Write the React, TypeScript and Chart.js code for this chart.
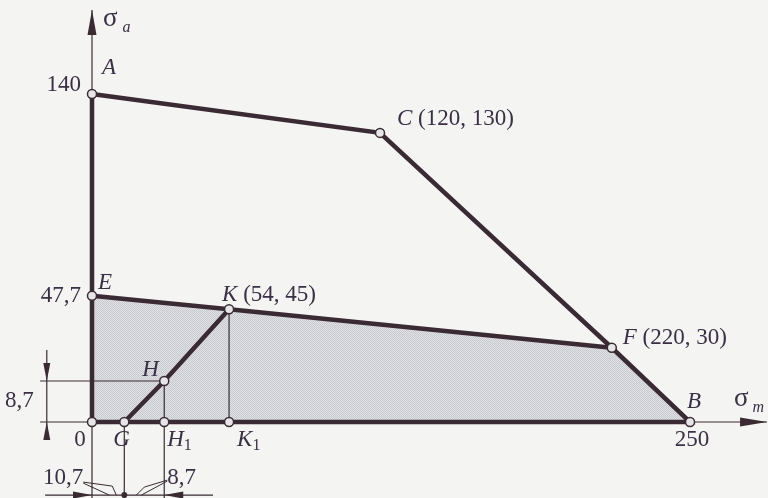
import React, { useEffect, useRef } from "react";
import { Chart, registerables } from "chart.js";

Chart.register(...registerables);

// σm / σa positions of the points as drawn in the (schematic) diagram
const outlineX = [0, 120.4, 217.3, 250, 0, 0]; // A, C, F, B, O, A
const outlineY = [140, 123.4, 31.7, 0, 0, 140];
const limitX = [0, 57.3, 217.3]; // E, K, F
const limitY = [53.9, 48.1, 31.7];
const loadX = [13.5, 30.2, 57.3]; // G, H, K
const loadY = [0, 17.5, 48.1];
const shadeX = [0, 57.3, 217.3, 250]; // E, K, F, B (filled down to σa = 0)
const shadeY = [53.9, 48.1, 31.7, 0];
const markerNames = ["O", "A", "C", "F", "B", "E", "K", "H", "G", "H1", "K1"];
const markerX = [0, 0, 120.4, 217.3, 250, 0, 57.3, 30.2, 13.5, 30.2, 57.3];
const markerY = [0, 140, 123.4, 31.7, 0, 53.9, 48.1, 17.5, 0, 0, 0];

// axis extents
const sigmaATop = 175.9;
const sigmaMEnd = 282.2;
const xMin = -38.46;
const xMax = 282.6;
const yMin = -32.44;
const yMax = 180.12;

// dimension / construction lines
const dimVX = -18.9; // vertical dimension line (8,7)
const dimVTop = 30.7;
const dimVBottom = -7.7;
const hLevelLeft = -21.7; // horizontal extension at H
const dimHY = -31.2; // bottom dimension line
const dimHLeft = -19.6;
const dimHRight = 50.6;

const INK = "#3a2a33";
const TEXT = "#3a2f45";

function pt(xs: number[], ys: number[]) {
  return xs.map((x, i) => ({ x, y: ys[i] }));
}

function makePattern(): CanvasPattern | string {
  const c = document.createElement("canvas");
  c.width = 2;
  c.height = 2;
  const g = c.getContext("2d");
  if (!g) return "#d8d9dc";
  g.fillStyle = "#e0e1e4";
  g.fillRect(0, 0, 2, 2);
  g.fillStyle = "#c9cacf";
  g.fillRect(0, 0, 1, 1);
  g.fillRect(1, 1, 1, 1);
  const p = g.createPattern(c, "repeat");
  return p || "#d8d9dc";
}

const SERIF = '"Liberation Serif", "Times New Roman", serif';

const overlay = {
  id: "overlay",
  beforeDraw(chart: any) {
    const { ctx, width, height } = chart;
    ctx.save();
    ctx.fillStyle = "#f4f4f2";
    ctx.fillRect(0, 0, width, height);
    ctx.restore();
  },
  afterDatasetsDraw(chart: any) {
    const ctx: CanvasRenderingContext2D = chart.ctx;
    const xs = chart.scales.x;
    const ys = chart.scales.y;
    const px = (v: number) => xs.getPixelForValue(v);
    const py = (v: number) => ys.getPixelForValue(v);
    const idx = (n: string) => markerNames.indexOf(n);
    const P = (n: string) => [px(markerX[idx(n)]), py(markerY[idx(n)])];

    const arrow = (tx: number, ty: number, dx: number, dy: number, len: number, hw: number) => {
      const bx = tx - dx * len;
      const by = ty - dy * len;
      ctx.beginPath();
      ctx.moveTo(tx, ty);
      ctx.lineTo(bx - dy * hw, by + dx * hw);
      ctx.lineTo(bx + dy * hw, by - dx * hw);
      ctx.closePath();
      ctx.fill();
    };

    ctx.save();
    ctx.fillStyle = INK;
    ctx.strokeStyle = INK;
    // axis arrowheads
    arrow(px(0), py(sigmaATop), 0, -1, 25, 4.5);
    arrow(px(sigmaMEnd), py(0), 1, 0, 27, 4.5);
    // dimension arrowheads
    arrow(px(dimVX), py(loadY[1]), 0, 1, 18, 3.5);
    arrow(px(dimVX), py(0), 0, -1, 18, 3.5);
    arrow(px(0), py(dimHY), 1, 0, 19, 3.5);
    arrow(px(loadX[1]), py(dimHY), -1, 0, 19, 3.5);
    // dot on bottom dimension line at G
    const dotX = px(loadX[0]);
    const dotY = py(dimHY);
    ctx.beginPath();
    ctx.arc(dotX, dotY, 3, 0, Math.PI * 2);
    ctx.fill();
    // leader wedges
    ctx.lineWidth = 1;
    const poly = (pts: number[][]) => {
      ctx.beginPath();
      pts.forEach(([a, b], i) => (i ? ctx.lineTo(dotX + a, dotY + b) : ctx.moveTo(dotX + a, dotY + b)));
      ctx.stroke();
    };
    poly([[-41, -13], [-12, -9], [-8, 0]]);
    poly([[-41, -12], [-15, 0]]);
    poly([[43, -15], [20, -8], [12, 0]]);
    poly([[43, -14], [17, 0]]);

    // texts
    ctx.fillStyle = TEXT;
    ctx.textBaseline = "middle";
    const reg = "23px " + SERIF;
    const ita = "italic 23px " + SERIF;
    const sig = "27px " + SERIF;
    const subI = "italic 16px " + SERIF;
    const subR = "16px " + SERIF;
    const txt = (parts: [string, string, number?, number?][], x: number, y: number, align: "left" | "right" | "center" = "left") => {
      let total = 0;
      parts.forEach(([s, f, , gap]) => {
        ctx.font = f;
        total += ctx.measureText(s).width + (gap || 0);
      });
      let cx = align === "left" ? x : align === "right" ? x - total : x - total / 2;
      ctx.textAlign = "left";
      parts.forEach(([s, f, dy, gap]) => {
        ctx.font = f;
        cx += gap || 0;
        ctx.fillText(s, cx, y + (dy || 0));
        cx += ctx.measureText(s).width;
      });
    };
    const [ax, ay] = P("A");
    txt([["140", reg]], ax - 11, ay - 9, "right");
    txt([["A", ita]], ax + 10, ay - 26);
    const topY = py(sigmaATop);
    txt([["σ", sig], ["a", subI, 9, 5]], px(0) + 11, topY + 9);
    const [cx, cy] = P("C");
    txt([["C", ita], [" (120, 130)", reg]], cx + 17, cy - 14);
    const [ex, ey] = P("E");
    txt([["E", ita]], ex + 6, ey - 13);
    txt([["47,7", reg]], ex - 11, ey, "right");
    const [kx, ky] = P("K");
    txt([["K", ita], [" (54, 45)", reg]], kx - 7, ky - 14);
    const [hx, hy] = P("H");
    txt([["H", ita]], hx - 22, hy - 11);
    txt([["8,7", reg]], px(dimVX) - 13, (py(0) + py(loadY[1])) / 2 - 1, "right");
    const [ox, oy] = P("O");
    txt([["0", reg]], ox - 12, oy + 18, "center");
    const [gx, gy] = P("G");
    txt([["G", ita]], gx - 11, gy + 18);
    const [h1x, h1y] = P("H1");
    txt([["H", ita], ["1", subR, 6]], h1x + 3, h1y + 18);
    const [k1x, k1y] = P("K1");
    txt([["K", ita], ["1", subR, 6]], k1x + 8, k1y + 18);
    txt([["10,7", reg]], dotX - 41, dotY - 17, "right");
    txt([["8,7", reg]], dotX + 43, dotY - 17);
    const [fx, fy] = P("F");
    txt([["F", ita], [" (220, 30)", reg]], fx + 11, fy - 10);
    const [bx, by] = P("B");
    txt([["B", ita]], bx - 3, by - 20);
    txt([["250", reg]], bx + 2, by + 18, "center");
    txt([["σ", sig], ["m", subI, 9, 4]], px(sigmaMEnd) - 33, py(0) - 23);
    ctx.restore();
  },
};

export default function App() {
  const ref = useRef<HTMLCanvasElement | null>(null);
  useEffect(() => {
    document.body.style.margin = "0";
    const canvas = ref.current;
    if (!canvas) return;
    const thin = { borderColor: INK, borderWidth: 1.2, pointRadius: 0, showLine: true, fill: false, order: 3 };
    const thick = { borderColor: INK, borderWidth: 4.5, pointRadius: 0, showLine: true, fill: false, order: 2 };
    const chart = new Chart(canvas, {
      type: "scatter",
      data: {
        datasets: [
          {
            data: pt(shadeX, shadeY),
            showLine: true,
            fill: "origin",
            backgroundColor: makePattern() as any,
            borderWidth: 0,
            pointRadius: 0,
            order: 5,
          },
          // thin construction lines
          { ...thin, data: [{ x: 0, y: outlineY[0] }, { x: 0, y: sigmaATop }] },
          { ...thin, data: [{ x: shadeX[3], y: 0 }, { x: sigmaMEnd, y: 0 }] },
          { ...thin, data: [{ x: limitX[1], y: limitY[1] }, { x: limitX[1], y: 0 }] },
          { ...thin, data: [{ x: hLevelLeft, y: loadY[1] }, { x: loadX[1], y: loadY[1] }, { x: loadX[1], y: yMin }] },
          { ...thin, data: [{ x: 0, y: 0 }, { x: 0, y: yMin }] },
          { ...thin, data: [{ x: loadX[0], y: 0 }, { x: loadX[0], y: dimHY }] },
          { ...thin, data: [{ x: dimVX, y: dimVTop }, { x: dimVX, y: dimVBottom }] },
          { ...thin, data: [{ x: hLevelLeft, y: 0 }, { x: 0, y: 0 }] },
          { ...thin, data: [{ x: dimHLeft, y: dimHY }, { x: dimHRight, y: dimHY }] },
          // thick diagram lines
          { ...thick, data: pt(outlineX, outlineY) },
          { ...thick, data: pt(limitX, limitY) },
          { ...thick, data: pt(loadX, loadY) },
          // point markers
          {
            data: pt(markerX, markerY),
            showLine: false,
            pointRadius: 4.5,
            pointBackgroundColor: "#e6e6e8",
            pointBorderColor: INK,
            pointBorderWidth: 1.5,
            order: 1,
          },
        ] as any,
      },
      options: {
        responsive: false,
        maintainAspectRatio: false,
        animation: false,
        layout: { padding: 0, autoPadding: false },
        plugins: { legend: { display: false }, tooltip: { enabled: false } },
        elements: { line: { tension: 0 } },
        scales: {
          x: { type: "linear", min: xMin, max: xMax, display: false },
          y: { type: "linear", min: yMin, max: yMax, display: false },
        },
      } as any,
      plugins: [overlay],
    });
    return () => chart.destroy();
  }, []);
  return <canvas ref={ref} width={768} height={498} style={{ display: "block" }} />;
}
